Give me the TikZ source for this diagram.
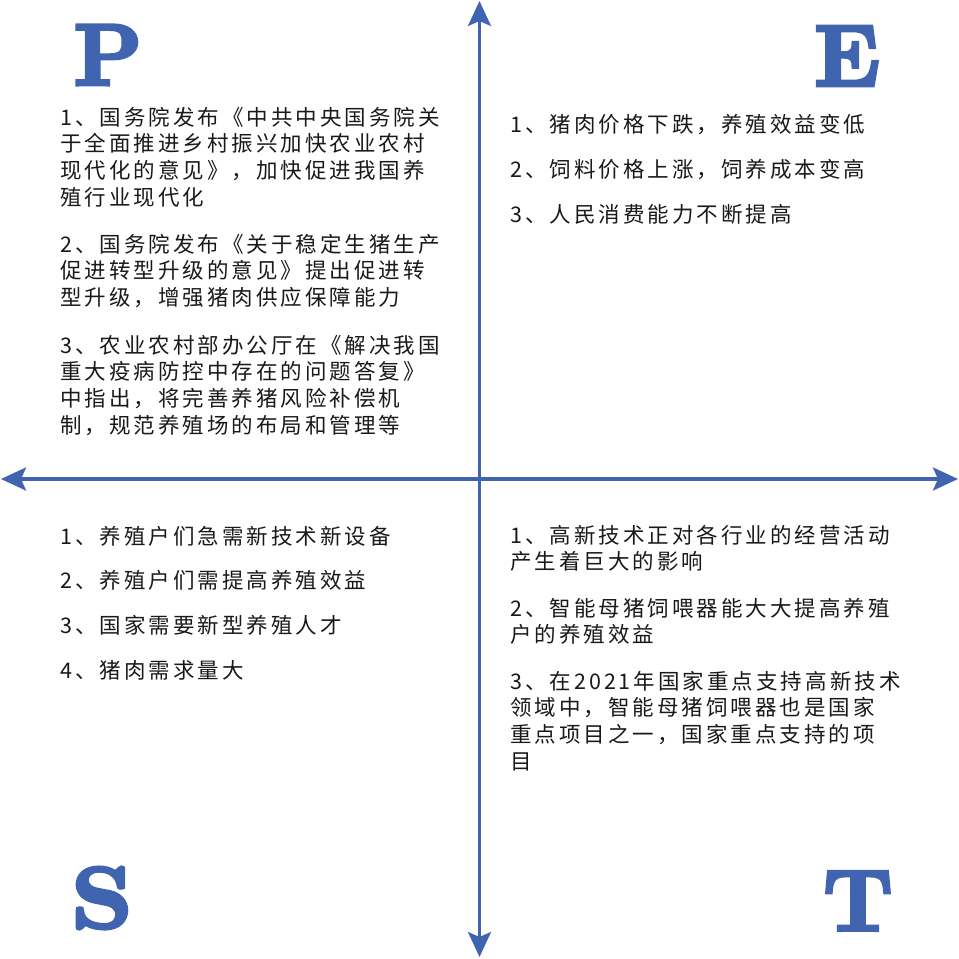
\documentclass[tikz,border=0pt]{standalone}
\usepackage{fontspec}
\usepackage{xcolor}
\usetikzlibrary{arrows.meta}

\newfontfamily\cjk[LetterSpace=14]{Noto Sans CJK SC}
\newfontfamily\pestfont[FakeBold=4]{lmroman10-bold.otf}
\definecolor{pestblue}{HTML}{4064B0}

\begin{document}
\begin{tikzpicture}[x=1pt,y=-1pt,
    item/.style={anchor=base west,inner sep=0pt,align=left,text=black!90,
        font=\cjk\fontsize{21.5}{26.7}\selectfont},
    letter/.style={inner sep=0pt,text=pestblue,font=\pestfont\fontsize{87}{87}\selectfont},
    axis/.style={pestblue,line width=3.2pt,
        {Stealth[length=25pt,width=23pt,inset=5pt]}-{Stealth[length=25pt,width=23pt,inset=5pt]}}]
            \useasboundingbox (0,0) rectangle (959,959);
            \def\ls{26.7}

            \coordinate (axtop) at (479.5,1);
            \coordinate (axbottom) at (479.5,957);
            \coordinate (axleft) at (1,479);
            \coordinate (axright) at (958,479);
            \draw[axis] (axbottom) -- (axtop);
            \draw[axis] (axleft) -- (axright);

            \node[letter] (P) at (108,55) {P};
            \node[letter] (E) at (847,56) {E};
            \node[letter,xscale=1.1] (S) at (102,898) {S};
            \node[letter] (T) at (858,901) {T};

            % base of a multi-line node is its last line
            \node[item] (p1) at (60,125+3*\ls) {1、国务院发布《中共中央国务院关\\于全面推进乡村振兴加快农业农村\\现代化的意见》，加快促进我国养\\殖行业现代化};
            \node[item] (p2) at (60,252+2*\ls) {2、国务院发布《关于稳定生猪生产\\促进转型升级的意见》提出促进转\\型升级，增强猪肉供应保障能力};
            \node[item] (p3) at (60,353+3*\ls) {3、农业农村部办公厅在《解决我国\\重大疫病防控中存在的问题答复》\\中指出，将完善养猪风险补偿机\\制，规范养殖场的布局和管理等};

            \foreach \txt [count=\i] in {1、猪肉价格下跌，养殖效益变低,2、饲料价格上涨，饲养成本变高,3、人民消费能力不断提高}
                \node[item] (e\i) at (510,132+45*\i-45) {\txt};

            \foreach \txt [count=\i] in {1、养殖户们急需新技术新设备,2、养殖户们需提高养殖效益,3、国家需要新型养殖人才,4、猪肉需求量大}
                \node[item] (s\i) at (60,544+44.7*\i-44.7) {\txt};

            \node[item] (t1) at (510,543+\ls) {1、高新技术正对各行业的经营活动\\产生着巨大的影响};
            \node[item] (t2) at (510,616+\ls) {2、智能母猪饲喂器能大大提高养殖\\户的养殖效益};
            \node[item] (t3) at (510,689+3*\ls) {3、在2021年国家重点支持高新技术\\领域中，智能母猪饲喂器也是国家\\重点项目之一，国家重点支持的项\\目};

        \end{tikzpicture}
\end{document}
